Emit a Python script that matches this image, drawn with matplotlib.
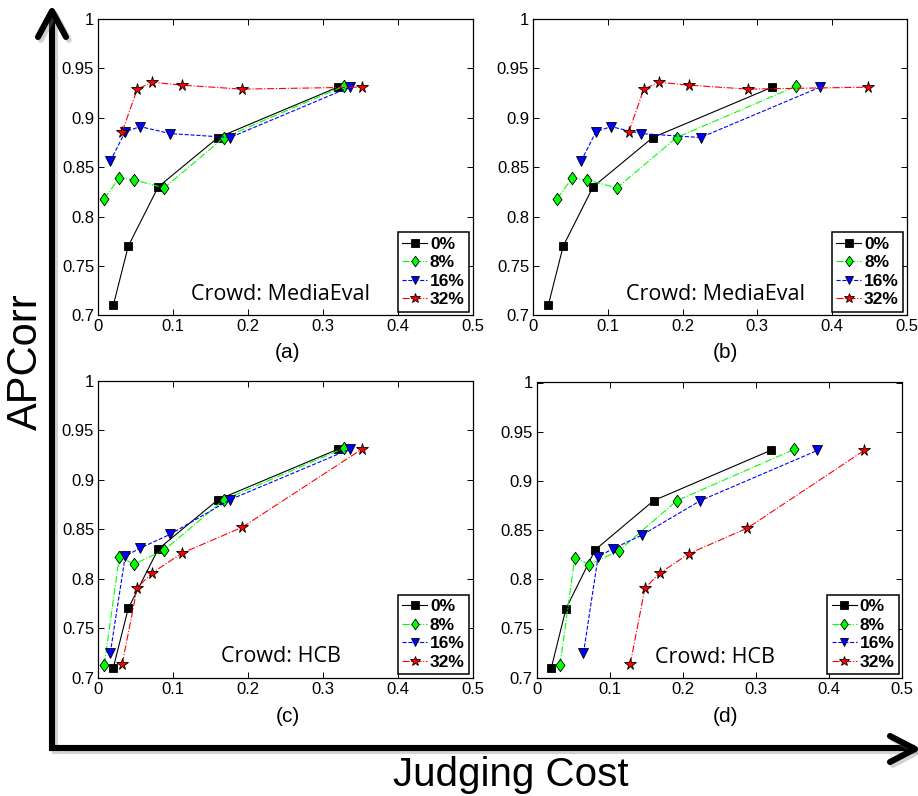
import matplotlib
matplotlib.use("Agg")
import matplotlib.pyplot as plt
from matplotlib.lines import Line2D
import matplotlib.patheffects as pe

# ---------------- data ----------------
series_labels = ["0%", "8%", "16%", "32%"]
x_ticks = [0, 0.1, 0.2, 0.3, 0.4, 0.5]
x_ticklabels = ["0", "0.1", "0.2", "0.3", "0.4", "0.5"]
y_ticks = [0.7, 0.75, 0.8, 0.85, 0.9, 0.95, 1.0]
y_ticklabels = ["0.7", "0.75", "0.8", "0.85", "0.9", "0.95", "1"]
panel_labels = ["(a)", "(b)", "(c)", "(d)"]
crowd_texts = ["Crowd: MediaEval", "Crowd: MediaEval", "Crowd: HCB", "Crowd: HCB"]

# panel (a)
a0_x = [0.02, 0.04, 0.08, 0.16, 0.32]
a0_y = [0.71, 0.77, 0.83, 0.88, 0.931]
a8_x = [0.008, 0.028, 0.048, 0.088, 0.168, 0.328]
a8_y = [0.818, 0.839, 0.837, 0.829, 0.880, 0.932]
a16_x = [0.016, 0.036, 0.056, 0.096, 0.176, 0.336]
a16_y = [0.856, 0.886, 0.891, 0.884, 0.880, 0.931]
a32_x = [0.032, 0.052, 0.072, 0.112, 0.192, 0.352]
a32_y = [0.886, 0.929, 0.936, 0.933, 0.929, 0.931]

# panel (b)
b0_x = [0.02, 0.04, 0.08, 0.16, 0.32]
b0_y = [0.71, 0.77, 0.83, 0.88, 0.931]
b8_x = [0.032, 0.052, 0.072, 0.112, 0.192, 0.352]
b8_y = [0.818, 0.839, 0.837, 0.829, 0.880, 0.932]
b16_x = [0.064, 0.084, 0.104, 0.144, 0.224, 0.384]
b16_y = [0.856, 0.886, 0.891, 0.884, 0.880, 0.931]
b32_x = [0.128, 0.148, 0.168, 0.208, 0.288, 0.448]
b32_y = [0.886, 0.929, 0.936, 0.933, 0.929, 0.931]

# panel (c)
c0_x = [0.02, 0.04, 0.08, 0.16, 0.32]
c0_y = [0.71, 0.77, 0.83, 0.88, 0.931]
c8_x = [0.008, 0.028, 0.048, 0.088, 0.168, 0.328]
c8_y = [0.713, 0.822, 0.815, 0.829, 0.880, 0.932]
c16_x = [0.016, 0.036, 0.056, 0.096, 0.176, 0.336]
c16_y = [0.725, 0.823, 0.831, 0.845, 0.880, 0.931]
c32_x = [0.032, 0.052, 0.072, 0.112, 0.192, 0.352]
c32_y = [0.714, 0.791, 0.806, 0.826, 0.852, 0.931]

# panel (d)
d0_x = [0.02, 0.04, 0.08, 0.16, 0.32]
d0_y = [0.71, 0.77, 0.83, 0.88, 0.931]
d8_x = [0.032, 0.052, 0.072, 0.112, 0.192, 0.352]
d8_y = [0.713, 0.822, 0.815, 0.829, 0.880, 0.932]
d16_x = [0.064, 0.084, 0.104, 0.144, 0.224, 0.384]
d16_y = [0.725, 0.823, 0.831, 0.845, 0.880, 0.931]
d32_x = [0.128, 0.148, 0.168, 0.208, 0.288, 0.448]
d32_y = [0.714, 0.791, 0.806, 0.826, 0.852, 0.931]

panels = [
    [(a0_x, a0_y), (a8_x, a8_y), (a16_x, a16_y), (a32_x, a32_y)],
    [(b0_x, b0_y), (b8_x, b8_y), (b16_x, b16_y), (b32_x, b32_y)],
    [(c0_x, c0_y), (c8_x, c8_y), (c16_x, c16_y), (c32_x, c32_y)],
    [(d0_x, d0_y), (d8_x, d8_y), (d16_x, d16_y), (d32_x, d32_y)],
]

# ---------------- styles ----------------
W, H = 918, 796
plt.rcParams["font.family"] = ["Liberation Sans", "DejaVu Sans"]

diamond = [(0, 1), (0.72, 0), (0, -1), (-0.72, 0), (0, 1)]
styles = [
    dict(color="black", ls="-", marker="s", ms=6.0, mfc="black", mec="black"),
    dict(color="#00ff00", ls="-.", marker=diamond, ms=9.0, mfc="#00ff00", mec="black"),
    dict(color="blue", ls="--", marker="v", ms=7.5, mfc="blue", mec="black"),
    dict(color="red", ls="-.", marker="*", ms=8.5, mfc="red", mec="black"),
]

axes_rects = [
    [98.3 / W, 1 - 315.3 / H, (472.6 - 98.3) / W, (315.3 - 19) / H],
    [533.3 / W, 1 - 315.3 / H, (906.7 - 533.3) / W, (315.3 - 19) / H],
    [98.3 / W, 1 - 677.7 / H, (472.6 - 98.3) / W, (677.7 - 381) / H],
    [536.7 / W, 1 - 677.7 / H, (902.3 - 536.7) / W, (677.7 - 382.5) / H],
]
label_pos = [(288, 352), (725, 352), (288, 717), (725, 717)]

fig = plt.figure(figsize=(W / 100, H / 100), dpi=100)

for i, rect in enumerate(axes_rects):
    ax = fig.add_axes(rect)
    handles = []
    for (xs, ys), st, lab in zip(panels[i], styles, series_labels):
        h, = ax.plot(xs, ys, color=st["color"], ls=st["ls"], lw=0.8,
                     marker=st["marker"], ms=st["ms"], mfc=st["mfc"],
                     mec=st["mec"], mew=0.6, label=lab)
        handles.append(h)
    ax.set_xlim(0, 0.5)
    ax.set_ylim(0.7, 1.0)
    ax.set_xticks(x_ticks)
    ax.set_xticklabels(x_ticklabels)
    ax.set_yticks(y_ticks)
    ax.set_yticklabels(y_ticklabels)
    ax.tick_params(direction="in", top=True, right=True, length=4, width=0.7,
                   labelsize=12, pad=3)
    for sp in ax.spines.values():
        sp.set_linewidth(0.9)
    leg = ax.legend(handles=handles, loc="lower right", bbox_to_anchor=(1.0, 0.0),
                    borderaxespad=0.2, prop=dict(weight="bold", size=12.5),
                    handlelength=1.45, handletextpad=0.15, labelspacing=0.2,
                    borderpad=0.25, fancybox=False, framealpha=1, markerscale=0.85)
    leg.get_frame().set_edgecolor("black")
    leg.get_frame().set_linewidth(1.1)
    ax.text(0.244, 0.721, crowd_texts[i], fontsize=15.5, family=["Open Sans", "DejaVu Sans"],
            ha="center", va="center")
    lx, ly = label_pos[i]
    fig.text(lx / W, 1 - ly / H, panel_labels[i], fontsize=15, ha="center", va="center")


def fp(x, y):
    return (x / W, 1 - y / H)


shadow = [pe.SimpleLineShadow(offset=(2, -2), shadow_color="gray", alpha=0.35), pe.Normal()]
lw_big = 4.4
# axis corner
xs, ys = zip(fp(52, 12), fp(52, 748), fp(915, 748))
fig.add_artist(Line2D(xs, ys, transform=fig.transFigure, color="black", lw=lw_big,
                      solid_joinstyle="miter", solid_capstyle="butt", path_effects=shadow))
# vertical arrowhead
xs, ys = zip(fp(38, 37), fp(52, 11), fp(66, 37))
fig.add_artist(Line2D(xs, ys, transform=fig.transFigure, color="black", lw=lw_big,
                      solid_joinstyle="round", solid_capstyle="round", path_effects=shadow))
# horizontal arrowhead
xs, ys = zip(fp(890, 736), fp(915, 749), fp(890, 762))
fig.add_artist(Line2D(xs, ys, transform=fig.transFigure, color="black", lw=lw_big,
                      solid_joinstyle="round", solid_capstyle="round", path_effects=shadow))

fig.text(26 / W, 1 - 362 / H, "APCorr", fontsize=30, rotation=90, ha="center", va="center")
fig.text(511 / W, 1 - 775 / H, "Judging Cost", fontsize=29, ha="center", va="center")

fig.savefig("out.png", dpi=100)
